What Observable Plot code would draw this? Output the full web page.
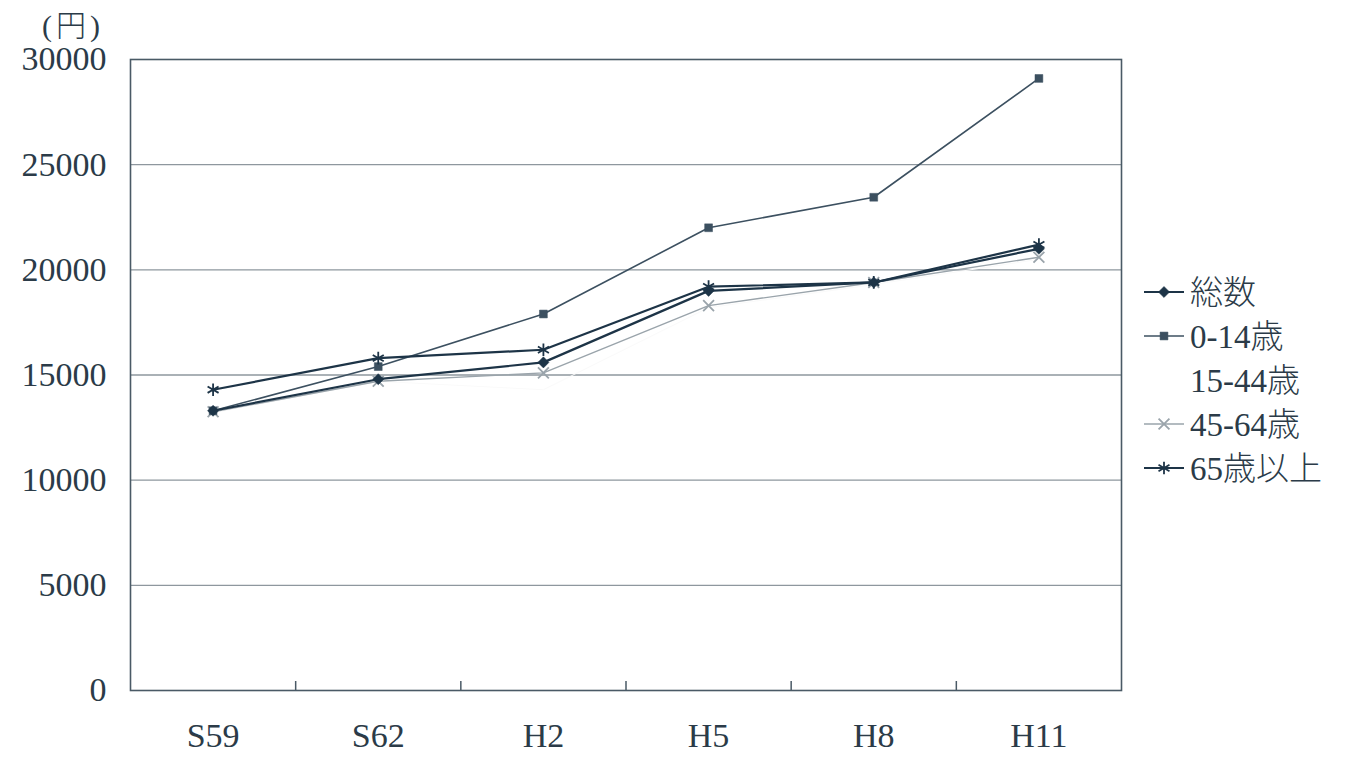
<!DOCTYPE html>
<html>
<head>
<meta charset="utf-8">
<script src="https://cdn.jsdelivr.net/npm/d3@7"></script>
<script src="https://cdn.jsdelivr.net/npm/@observablehq/plot@0.6"></script>
<style>
  body { margin: 0; background: #fff; }
  #wrap { position: relative; width: 1359px; height: 757px; }
</style>
</head>
<body>
<div id="wrap">
  <div id="chart"></div>
</div>
<script>
const categories = ["S59", "S62", "H2", "H5", "H8", "H11"];
const seriesNames = ["総数", "0-14歳", "15-44歳", "45-64歳", "65歳以上"];
const total   = [13300, 14800, 15600, 19000, 19400, 21000];
const age0_14 = [13300, 15400, 17900, 22000, 23450, 29100];
const age15_44 = [13200, 14700, 14300, 18200, 19300, 20500];
const age45_64 = [13250, 14700, 15100, 18300, 19400, 20600];
const age65   = [14300, 15800, 16200, 19200, 19400, 21200];
const yTicks = [0, 5000, 10000, 15000, 20000, 25000, 30000];
const unitLabel = "(円)";

const FONT = '"Liberation Serif", "Noto Sans CJK JP", serif';
const LAT = '"Liberation Serif", serif';
const CJK = '"Noto Sans CJK JP", sans-serif';
const TEXT = "#2b3b48";
const styles = {
  "総数":   {color: "#1d3447", width: 2.2, symbol: "diamond2", fill: true, r: 5},
  "0-14歳": {color: "#3c5060", width: 1.6, symbol: "square2", fill: true, r: 5},
  "15-44歳": {color: "#fafafa", width: 1, symbol: "circle", fill: true, r: 0},
  "45-64歳": {color: "#9aa4ab", width: 1.4, symbol: "times", fill: false, r: 5},
  "65歳以上": {color: "#1d3447", width: 2.2, symbol: "asterisk", fill: false, r: 6}
};
const seriesValues = [total, age0_14, age15_44, age45_64, age65];
const data = [];
seriesNames.forEach((s, si) => categories.forEach((c, i) => data.push({series: s, cat: c, i: i + 0.5, value: seriesValues[si][i]})));

const marks = [
  Plot.ruleY(yTicks.slice(1, -1), {stroke: "#8e979e", strokeWidth: 1.3}),
  Plot.frame({stroke: "#4a5a66", strokeWidth: 1.6}),
  Plot.axisY(yTicks, {tickSize: 0, tickPadding: 24, fontSize: 34, label: null, tickFormat: d => String(d), color: TEXT}),
  Plot.axisX(categories.map((c, i) => i + 0.5), {tickSize: 0, tickPadding: 32, fontSize: 34, label: null, tickFormat: d => categories[Math.floor(d)], color: TEXT}),
  Plot.axisX(d3.range(1, categories.length), {tickSize: -9, label: null, tickFormat: () => "", stroke: "#4a5a66", strokeWidth: 1.5})
];
for (const s of ["15-44歳", "45-64歳", "0-14歳", "総数", "65歳以上"]) {
  const st = styles[s];
  const d = data.filter(v => v.series === s);
  marks.push(Plot.line(d, {x: "i", y: "value", stroke: st.color, strokeWidth: st.width}));
  if (st.r > 0) marks.push(Plot.dot(d, {x: "i", y: "value", symbol: () => st.symbol, r: st.r, fill: st.fill ? st.color : "none", stroke: st.color, strokeWidth: st.fill ? 0.5 : 1.8}));
}

const chart = Plot.plot({
  width: 1359, height: 757,
  marginLeft: 130, marginRight: 238, marginTop: 59, marginBottom: 67,
  style: {fontFamily: FONT, background: "#fff"},
  x: {type: "linear", domain: [0, categories.length], axis: null, label: null},
  y: {domain: [0, 30000], axis: null, label: null},
  symbol: {type: "identity"},
  marks
});
document.getElementById("chart").appendChild(chart);

function mixedText(sel, str) {
  const runs = str.match(/[\u3000-\u9fff]+|[^\u3000-\u9fff]+/g) || [];
  for (const r of runs) {
    const cjk = /[\u3000-\u9fff]/.test(r);
    sel.append("tspan").attr("font-family", cjk ? CJK : LAT).attr("font-weight", cjk ? 300 : null).text(r);
  }
}

const svg = d3.select(chart);
const unit = svg.append("text").attr("x", 42).attr("y", 36).attr("font-size", 30).attr("fill", TEXT)
  .attr("text-anchor", "start").attr("letter-spacing", 4);
mixedText(unit, unitLabel);

const lg = svg.append("g").attr("transform", "translate(1144,292)")
  .attr("font-size", 33).attr("fill", TEXT).attr("text-anchor", "start");
seriesNames.forEach((s, k) => {
  const st = styles[s];
  const g = lg.append("g").attr("transform", `translate(0,${k * 44})`);
  if (s !== "15-44歳") {
    g.append("line").attr("x1", 0).attr("x2", 40).attr("stroke", st.color).attr("stroke-width", st.width);
    const sym = {diamond2: d3.symbolDiamond2, square2: d3.symbolSquare2, times: d3.symbolTimes, asterisk: d3.symbolAsterisk}[st.symbol];
    g.append("path").attr("transform", "translate(20,0)").attr("d", d3.symbol(sym, Math.PI * st.r * st.r)())
      .attr("fill", st.fill ? st.color : "none").attr("stroke", st.color).attr("stroke-width", st.fill ? 0.5 : 1.8);
  }
  const t = g.append("text").attr("x", 46).attr("dy", "0.35em").attr("text-anchor", "start");
  mixedText(t, s);
});
</script>
</body>
</html>
